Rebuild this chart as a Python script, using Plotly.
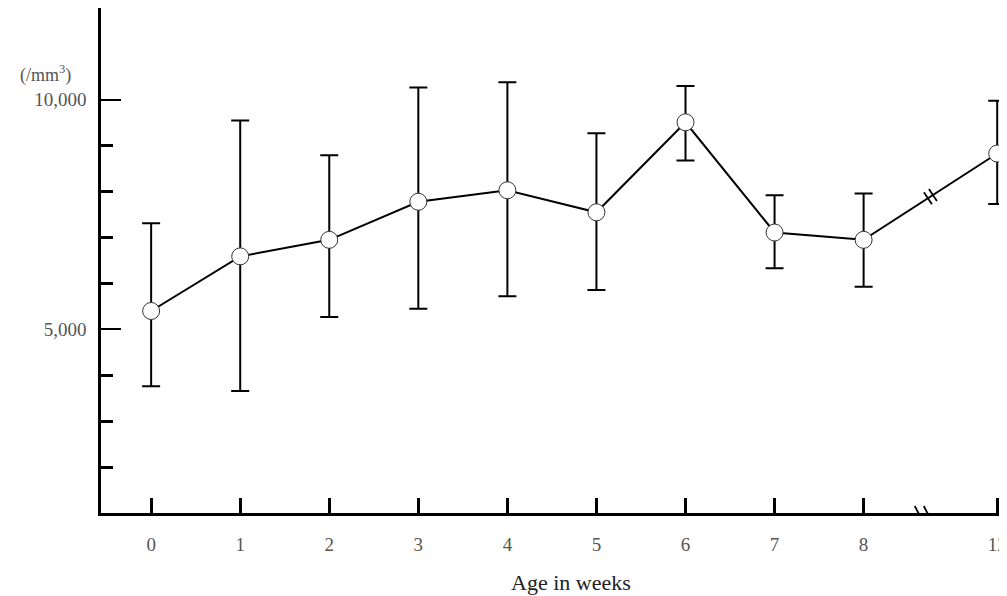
import plotly.graph_objects as go

# ---- data ----
week_labels = ["0", "1", "2", "3", "4", "5", "6", "7", "8", "12"]
x_positions = [0, 1, 2, 3, 4, 5, 6, 7, 8, 9.5]   # broken axis: 12 weeks drawn after a gap
mean_vals = [5400, 6590, 6950, 7780, 8030, 7550, 9510, 7110, 6950, 8830]
upper_vals = [7310, 9550, 8790, 10270, 10380, 9270, 10300, 7920, 7960, 9980]
lower_vals = [3760, 3660, 5270, 5450, 5720, 5860, 8680, 6330, 5930, 7730]

y_major = [5000, 10000]
y_major_text = ["5,000", "10,000"]
y_minor = [2000, 3000, 4000, 6000, 7000, 8000, 9000]

err_plus = [u - m for u, m in zip(upper_vals, mean_vals)]
err_minus = [m - l for m, l in zip(mean_vals, lower_vals)]

serif = "Liberation Serif, Times New Roman, serif"
label_color = "#555555"

fig = go.Figure()
fig.add_trace(go.Scatter(
    x=x_positions, y=mean_vals,
    mode="lines+markers",
    line=dict(color="black", width=2),
    marker=dict(symbol="circle", size=17, color="white",
                line=dict(color="#333333", width=1)),
    error_y=dict(type="data", symmetric=False, array=err_plus, arrayminus=err_minus,
                 color="black", thickness=2, width=9),
    showlegend=False, hoverinfo="skip", cliponaxis=False,
))

# break marks on the connecting line between week 8 and week 12
bx = (x_positions[-2] + x_positions[-1]) / 2
by = (mean_vals[-2] + mean_vals[-1]) / 2
shapes = []
for off in (-2.5, 2.5):
    shapes.append(dict(type="line", xref="x", yref="y", xsizemode="pixel", ysizemode="pixel",
                       xanchor=bx, yanchor=by,
                       x0=off - 4, y0=off * 0.66 + 6, x1=off + 4, y1=off * 0.66 - 6,
                       line=dict(color="black", width=1.8)))
# break marks on the x axis
axis_break_x = 8.63
for off in (0, 9):
    shapes.append(dict(type="line", xref="x", yref="y", xsizemode="pixel", ysizemode="pixel",
                       xanchor=axis_break_x, yanchor=1000,
                       x0=off - 5, y0=7, x1=off + 5, y1=-12,
                       line=dict(color="black", width=1.8)))

# the page body adds an 8px margin, so the figure is 8px smaller than the window
fig.update_layout(
    width=999, height=588,
    margin=dict(l=93, r=0, t=0, b=83),
    plot_bgcolor="white", paper_bgcolor="white",
    font=dict(family=serif, color=label_color, size=19),
    shapes=shapes,
    annotations=[
        dict(text="Age in weeks", xref="paper", yref="paper", x=0.519, y=-0.137,
             xanchor="center", yanchor="middle", showarrow=False,
             font=dict(family=serif, size=22, color="#222222")),
        dict(text="(/mm<sup>3</sup>)", xref="paper", yref="paper", x=-0.061, y=0.87,
             xanchor="center", yanchor="middle", showarrow=False,
             font=dict(family=serif, size=18, color=label_color)),
    ],
)

fig.update_xaxes(
    range=[-0.563, 9.61],
    tickmode="array", tickvals=x_positions, ticktext=week_labels,
    ticks="inside", ticklen=15, tickwidth=2.5, tickcolor="black",
    showline=True, linecolor="black", linewidth=3,
    showgrid=False, zeroline=False, ticklabelstandoff=12,
    ticklabeloverflow="allow",
    tickfont=dict(family=serif, size=19, color=label_color),
)
fig.update_yaxes(
    range=[1000, 12000],
    tickmode="array", tickvals=y_major, ticktext=y_major_text,
    ticks="inside", ticklen=20, tickwidth=1.5, tickcolor="black",
    minor=dict(tickmode="array", tickvals=y_minor, ticks="inside",
               ticklen=12, tickwidth=3, tickcolor="black", showgrid=False),
    showline=True, linecolor="black", linewidth=2.5,
    showgrid=False, zeroline=False, ticklabelstandoff=8,
    tickfont=dict(family=serif, size=19, color=label_color),
)

fig.write_html("out.html")
